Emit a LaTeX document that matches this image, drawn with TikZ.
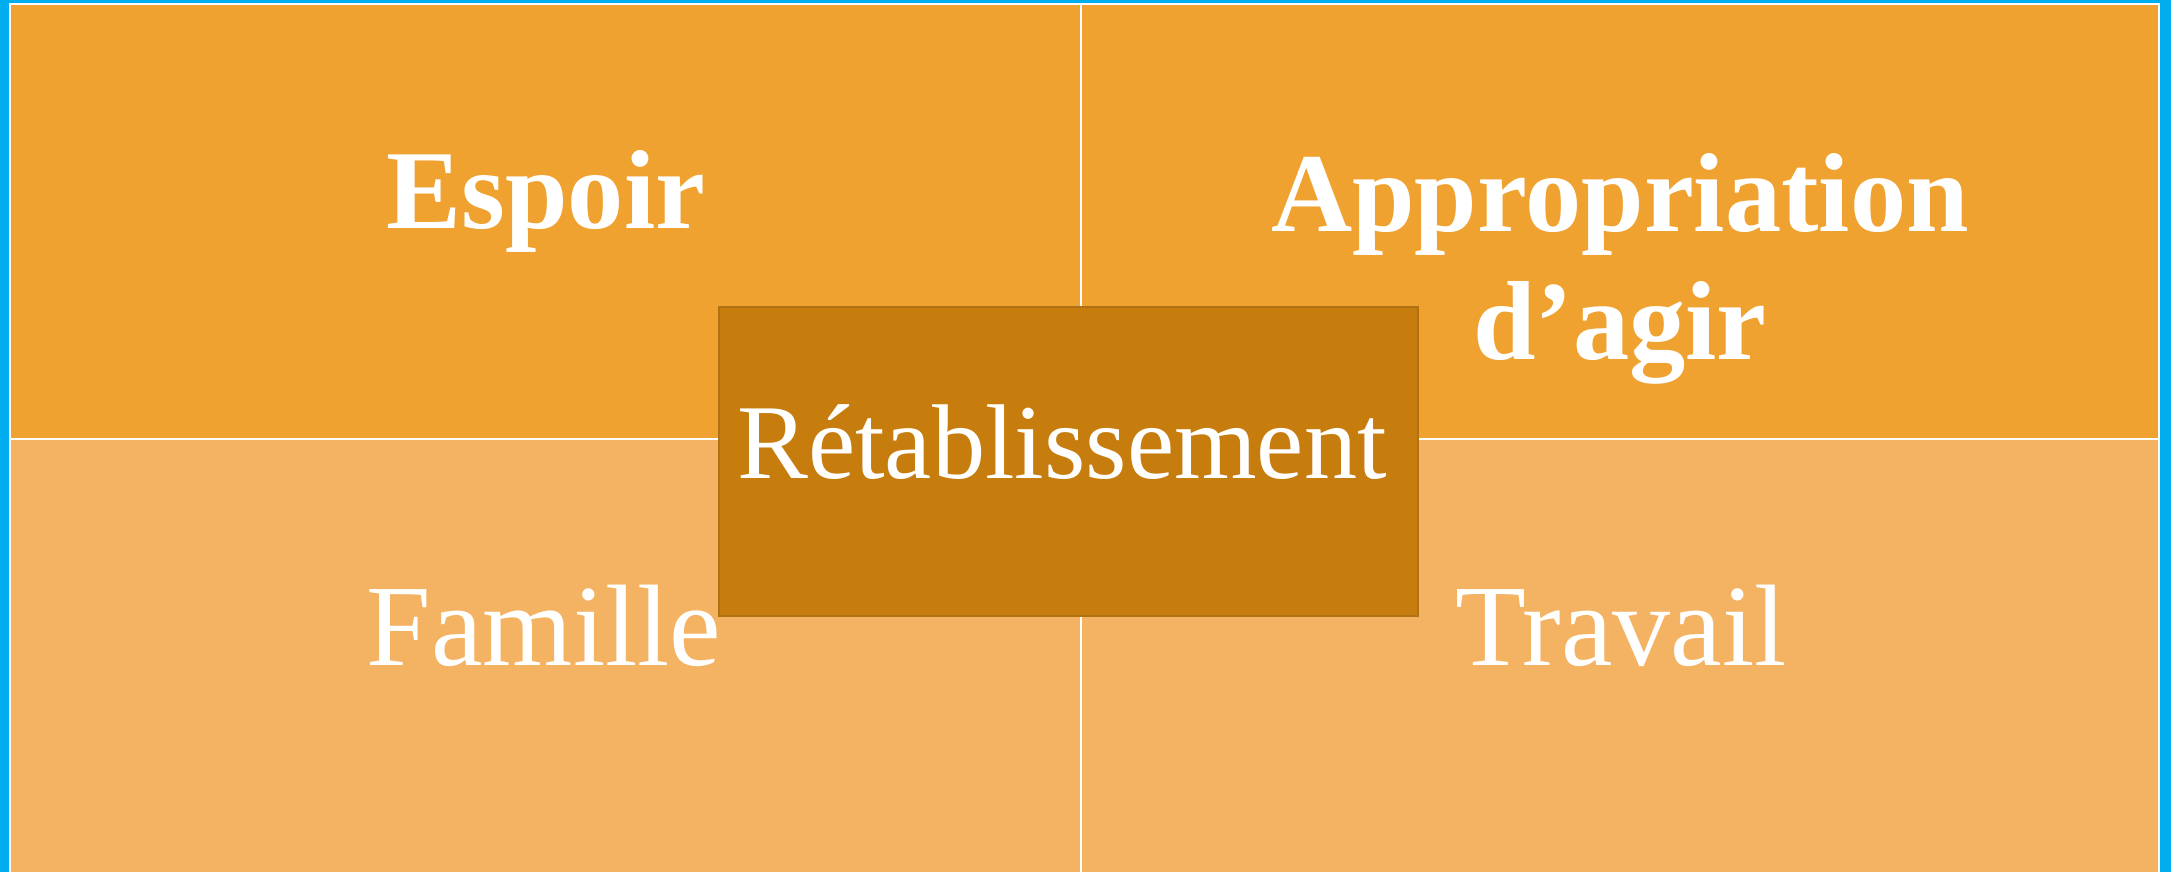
\documentclass[tikz,border=0pt]{standalone}
\usepackage{fontspec}
\setmainfont{Liberation Serif}
\definecolor{frameblue}{HTML}{00AEEF}
\definecolor{topfill}{HTML}{EFA22F}
\definecolor{lowfill}{HTML}{F4B263}
\definecolor{corefill}{HTML}{C77C0E}
\definecolor{coreline}{HTML}{B07014}
\tikzset{
    quadlabel/.style={text=white, inner sep=0pt, anchor=base, align=center,
        font=\fontsize{66}{73}\selectfont},
    boldlabel/.style={quadlabel, font=\fontsize{64}{73}\selectfont\bfseries},
    corelabel/.style={text=white, inner sep=0pt, anchor=base,
        font=\fontsize{60.5}{66}\selectfont},
}
\begin{document}
\begin{tikzpicture}[x=0.02cm, y=-0.02cm]
            \useasboundingbox (0,0) rectangle (2171,872);
            % Outer frame
            \fill[frameblue] (0,0) rectangle (2171,872);
            \fill[white] (9,3) rectangle (2160,872);
            % Four quadrants
            \fill[topfill] (11,5) rectangle (2158,439);
            \fill[lowfill] (11,439) rectangle (2158,872);
            \draw[white, line width=1.2pt] (11,439) -- (2158,439);
            \draw[white, line width=1.2pt] (1081,5) -- (1081,872);
            \node[boldlabel] (espoir) at (546,228) {Espoir};
            \node[boldlabel, anchor=north] (pouvoir) at (1620,153)
                {Appropriation\\d’agir};
            \node[quadlabel] (famille) at (544,665) {Famille};
            \node[quadlabel] (travail) at (1621,665) {Travail};
            % Central box
            \filldraw[fill=corefill, draw=coreline, line width=1pt]
                (719,307) rectangle (1418,616);
            \node[corelabel] (retab) at (1062,478) {Rétablissement};
\end{tikzpicture}
\end{document}
